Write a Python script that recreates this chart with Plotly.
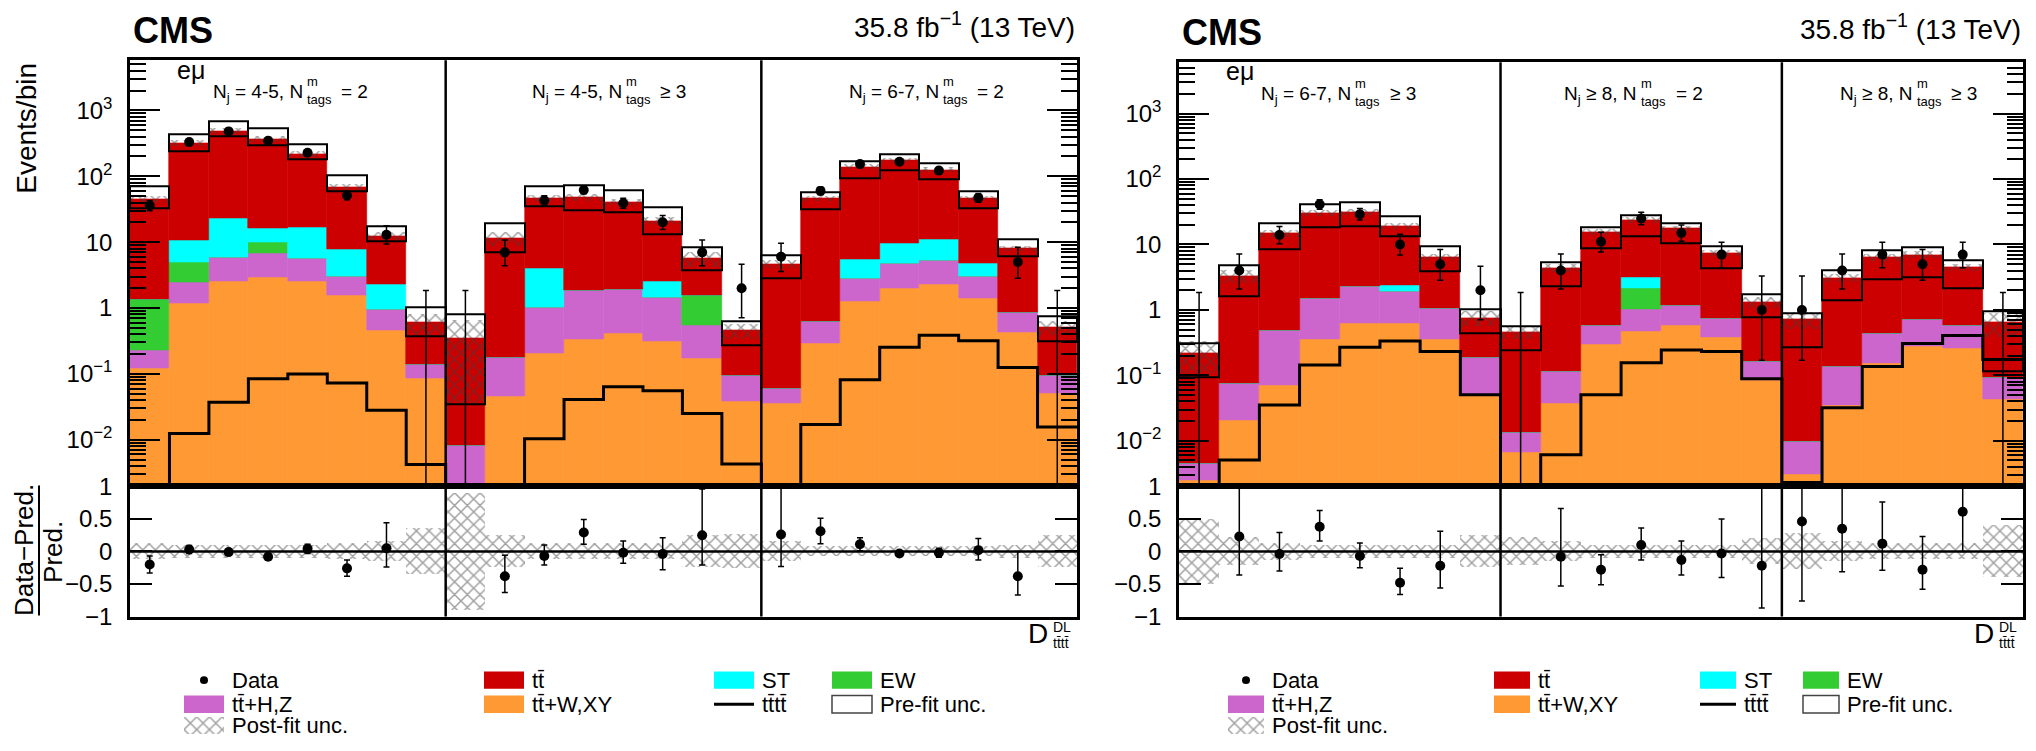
import numpy as np
import plotly.graph_objects as go

W, H = 2036, 751
FLOOR = 1e-5
FONT = "Liberation Sans, Arial, Helvetica, sans-serif"

C_TT = "#cc0000"
C_ST = "#00ffff"
C_EW = "#33cc33"
C_HZ = "#cc66cc"
C_WXY = "#ff9933"
HATCH = dict(shape="x", fgcolor="#404040", size=9, solidity=0.3, fillmode="overlay")

# ---------------- Left panel: e mu, 3 categories x 8 bins ----------------
L_cat_main = ["N<sub>j</sub> = 4-5, N", "N<sub>j</sub> = 4-5, N", "N<sub>j</sub> = 6-7, N"]
L_cat_rel = ["= 2", "\u2265 3", "= 2"]
L_dividers = [8, 16]

L_ttWXY = [0.121, 1.18, 2.54, 2.97, 2.54, 1.57, 0.456, 0.0865,
           0.001, 0.0456, 0.207, 0.333, 0.417, 0.308, 0.175, 0.0385,
           0.0364, 0.29, 1.28, 2.03, 2.32, 1.40, 0.43, 0.051]
L_ttHZ = [0.111, 1.27, 3.29, 3.78, 3.16, 1.50, 0.49, 0.0535,
          0.0073, 0.134, 0.823, 1.517, 1.50, 1.14, 0.365, 0.056,
          0.0236, 0.348, 1.56, 2.79, 3.08, 1.67, 0.435, 0.0436]
L_EW = [1.13, 2.55, 0, 3.05, 0, 0, 0, 0,
        0, 0, 0, 0, 0, 0, 1.03, 0,
        0, 0, 0, 0, 0, 0, 0, 0]
L_ST = [0, 5.6, 16.9, 6.4, 11.2, 4.73, 1.32, 0,
        0, 0, 2.95, 0, 0, 1.06, 0, 0,
        0, 0, 2.73, 4.95, 5.8, 1.64, 0, 0]
L_tt = [43.6, 309, 462, 354, 201, 60.2, 10.1, 0.46,
        0.336, 11.3, 42.7, 46.2, 38.7, 18.5, 4.03, 0.361,
        4.64, 45.4, 133, 165, 114, 41.9, 7.13, 0.415]
L_tttt = [0.001, 0.0125, 0.037, 0.0845, 0.10, 0.073, 0.028, 0.0042,
          0.001, 0.001, 0.0104, 0.041, 0.0638, 0.0557, 0.025, 0.0043,
          0.001, 0.017, 0.0817, 0.254, 0.385, 0.318, 0.125, 0.0157]
L_pre_lo = [32.5, 238, 398, 297, 181, 60, 10.2, 0.372,
            0.035, 7.0, 35.6, 30, 28.4, 13.2, 3.72, 0.275,
            2.84, 31.8, 94.6, 122, 89, 32.5, 6.03, 0.318]
L_pre_hi = [71.5, 440, 690, 540, 308, 102, 17.5, 1.03,
            0.817, 19.2, 69.8, 73.8, 61.7, 33.3, 8.26, 0.638,
            6.24, 57, 171, 215, 157, 59, 10.9, 0.755]
L_unc = [0.12, 0.10, 0.10, 0.10, 0.10, 0.12, 0.15, 0.35,
         0.90, 0.25, 0.12, 0.12, 0.12, 0.12, 0.25, 0.26,
         0.15, 0.08, 0.08, 0.08, 0.08, 0.08, 0.10, 0.24]
L_data = [36, 330, 480, 345, 227, 51, 13, 0,
          0, 7, 43, 62, 39, 20, 7, 2,
          6, 60, 153, 166, 122, 47, 5, 0]
L_data_dn = [6, 18, 22, 19, 15, 7, 3.6, 0,
             0, 2.6, 6.5, 7.9, 6.2, 4.4, 2.6, 1.29,
             2.4, 7.7, 12.4, 12.9, 11, 6.8, 2.16, 0]
L_data_up = [7, 19, 23, 20, 16, 8, 4.7, 1.84,
             1.84, 3.8, 7.6, 8.9, 7.3, 5.5, 3.8, 2.64,
             3.6, 8.8, 13.4, 13.9, 12, 7.9, 3.38, 1.84]
L_ratio = [-0.20, 0.03, -0.01, -0.08, 0.04, -0.26, 0.05, None,
           None, -0.38, -0.07, 0.29, -0.02, -0.04, 0.25, None,
           0.26, 0.31, 0.11, -0.03, -0.02, 0.02, -0.38, None]
L_ratio_dn = [0.13, 0.06, 0.05, 0.05, 0.07, 0.12, 0.29, 0,
              0, 0.25, 0.14, 0.18, 0.16, 0.24, 0.46, 0,
              0.49, 0.19, 0.10, 0.04, 0.07, 0.15, 0.29, 0]
L_ratio_up = [0.13, 0.06, 0.05, 0.05, 0.07, 0.13, 0.39, 0,
              0, 0.32, 0.17, 0.20, 0.18, 0.25, 0.71, 0,
              0.80, 0.20, 0.10, 0.04, 0.07, 0.18, 0.38, 0]

# ---------------- Right panel: e mu, categories with 8, 7, 6 bins ----------------
R_cat_main = ["N<sub>j</sub> = 6-7, N", "N<sub>j</sub> \u2265 8, N", "N<sub>j</sub> \u2265 8, N"]
R_cat_rel = ["\u2265 3", "= 2", "\u2265 3"]
R_dividers = [8, 15]

R_ttWXY = [0.0025, 0.0204, 0.0708, 0.352, 0.628, 0.628, 0.352, 0.0504,
           0.00658, 0.038, 0.30, 0.467, 0.586, 0.386, 0.0857,
           0.0031, 0.0347, 0.156, 0.275, 0.26, 0.0435]
R_ttHZ = [0.002, 0.0544, 0.413, 1.148, 1.65, 1.32, 0.72, 0.141,
          0.0071, 0.077, 0.286, 0.573, 0.614, 0.374, 0.079,
          0.0067, 0.101, 0.291, 0.445, 0.326, 0.0503]
R_EW = [0, 0, 0, 0, 0, 0, 0, 0,
        0, 0, 0, 1.14, 0, 0, 0,
        0, 0, 0, 0, 0, 0]
R_ST = [0, 0, 0, 0, 0, 0.46, 0, 0,
        0, 0, 0, 1.02, 0, 0, 0,
        0, 0, 0, 0, 0, 0]
R_tt = [0.2145, 3.255, 14.32, 28.5, 29.3, 16.79, 5.43, 0.569,
        0.443, 4.255, 14.81, 20.3, 16.3, 6.64, 1.155,
        0.70, 2.96, 5.95, 6.24, 3.88, 0.547]
R_tttt = [0.001, 0.0051, 0.0351, 0.144, 0.268, 0.336, 0.232, 0.0504,
          0.001, 0.0061, 0.0504, 0.156, 0.245, 0.232, 0.0887,
          0.0023, 0.032, 0.136, 0.308, 0.408, 0.175]
R_pre_lo = [0.094, 1.64, 8.36, 18.7, 19.1, 13.6, 3.92, 0.441,
            0.245, 2.28, 8.65, 13.3, 10.3, 4.39, 0.787,
            0.265, 1.42, 2.95, 3.2, 2.18, 0.117]
R_pre_hi = [0.308, 4.75, 20.9, 41.2, 43.6, 27.4, 9.38, 1.04,
            0.555, 5.38, 18.7, 28.4, 21.4, 9.47, 1.74,
            0.90, 4.06, 8.19, 9.17, 5.82, 0.953]
R_unc = [0.50, 0.22, 0.13, 0.10, 0.10, 0.10, 0.10, 0.25,
         0.22, 0.15, 0.10, 0.10, 0.10, 0.10, 0.20,
         0.28, 0.15, 0.12, 0.12, 0.12, 0.40]
R_data = [0, 4, 14, 41, 29, 10, 5, 2,
          0, 4, 11, 25, 15, 7, 1,
          1, 4, 7, 5, 7, 0]
R_data_dn = [0, 1.91, 3.7, 6.4, 5.4, 3.1, 2.16, 1.29,
             0, 1.91, 3.3, 5.0, 3.8, 2.6, 0.83,
             0.83, 1.91, 2.6, 2.16, 2.6, 0]
R_data_up = [1.84, 3.16, 4.8, 7.4, 6.4, 4.3, 3.38, 2.64,
             1.84, 3.16, 4.4, 6.0, 4.9, 3.8, 2.3,
             2.3, 3.16, 3.8, 3.38, 3.8, 1.84]
R_ratio = [None, 0.23, -0.04, 0.38, -0.07, -0.48, -0.22, None,
           None, -0.08, -0.28, 0.10, -0.13, -0.03, -0.22,
           0.46, 0.35, 0.12, -0.28, 0.61, None]
R_ratio_dn = [0, 0.59, 0.26, 0.22, 0.18, 0.18, 0.34, 0,
              0, 0.45, 0.23, 0.23, 0.23, 0.37, 0.65,
              1.22, 0.66, 0.41, 0.30, 0.61, 0]
R_ratio_up = [0, 0.80, 0.33, 0.25, 0.20, 0.22, 0.53, 0,
              0, 0.74, 0.23, 0.26, 0.29, 0.53, 1.30,
              0.60, 1.00, 0.64, 0.51, 0.60, 0]

TTBAR = "tt\u0304"
LEGEND_ROW1 = ["Data", TTBAR, "ST", "EW"]
LEGEND_ROW2 = [TTBAR + "+H,Z", TTBAR + "+W,XY", TTBAR + TTBAR, "Pre-fit unc."]
LEGEND_ROW3 = ["Post-fit unc."]

# ---------------- geometry (pixels) ----------------
L_X0, L_X1 = 130, 1077
R_X0, R_X1 = 1179, 2023
L_TOP, R_TOP = 48, 50
SPLIT, BOT = 490, 625
DY = -10  # vertical correction for header texts


def px(x):
    return x / W


def py(y):
    return 1 - y / H


fig = go.Figure()


def add_panel(xa, ya, xr, yr, comps, tttt, pre_lo, pre_hi, unc, data, d_dn, d_up,
              rat, r_dn, r_up):
    n = len(data)
    xc = np.arange(n) + 0.5
    pre_lo = np.array(pre_lo, float)
    pre_hi = np.array(pre_hi, float)
    unc = np.array(unc, float)
    common = dict(xaxis=xa, yaxis=ya, width=1, showlegend=False, hoverinfo="skip")
    fig.add_trace(go.Bar(x=xc, y=pre_hi - pre_lo, base=pre_lo,
                         marker=dict(color="white", line=dict(width=0)), **common))
    base = np.full(n, FLOOR)
    for vals, col in comps:
        v = np.array(vals, float)
        fig.add_trace(go.Bar(x=xc, y=v, base=base.copy(),
                             marker=dict(color=col, line=dict(width=0.6, color=col)), **common))
        base = base + v
    total = base - FLOOR
    fig.add_trace(go.Bar(x=xc, y=2 * total * unc, base=total * (1 - unc),
                         marker=dict(color="rgba(0,0,0,0)", line=dict(width=0), pattern=HATCH),
                         **common))
    fig.add_trace(go.Bar(x=xc, y=pre_hi - pre_lo, base=pre_lo,
                         marker=dict(color="rgba(0,0,0,0)", line=dict(width=2, color="black")),
                         **common))
    edges = np.arange(n + 1)
    sig = list(tttt) + [tttt[-1]]
    fig.add_trace(go.Scatter(x=edges, y=sig, mode="lines", line=dict(color="black", width=3, shape="hv"),
                             xaxis=xa, yaxis=ya, showlegend=False, hoverinfo="skip"))
    d = np.array(data, float)
    yd = np.where(d > 0, d, FLOOR)
    fig.add_trace(go.Scatter(x=xc, y=yd, mode="markers",
                             marker=dict(color="black", size=10),
                             error_y=dict(type="data", symmetric=False, array=d_up, arrayminus=d_dn,
                                          color="black", thickness=1.5, width=3),
                             xaxis=xa, yaxis=ya, showlegend=False, hoverinfo="skip"))
    fig.add_trace(go.Bar(x=xc, y=2 * unc, base=-unc, width=1,
                         marker=dict(color="rgba(0,0,0,0)", line=dict(width=0), pattern=HATCH),
                         xaxis=xr, yaxis=yr, showlegend=False, hoverinfo="skip"))
    fig.add_trace(go.Scatter(x=xc, y=rat, mode="markers",
                             marker=dict(color="black", size=10),
                             error_y=dict(type="data", symmetric=False, array=r_up, arrayminus=r_dn,
                                          color="black", thickness=1.5, width=3),
                             xaxis=xr, yaxis=yr, showlegend=False, hoverinfo="skip"))


add_panel("x", "y", "x2", "y2",
          [(L_ttWXY, C_WXY), (L_ttHZ, C_HZ), (L_EW, C_EW), (L_ST, C_ST), (L_tt, C_TT)],
          L_tttt, L_pre_lo, L_pre_hi, L_unc, L_data, L_data_dn, L_data_up,
          L_ratio, L_ratio_dn, L_ratio_up)
add_panel("x3", "y3", "x4", "y4",
          [(R_ttWXY, C_WXY), (R_ttHZ, C_HZ), (R_EW, C_EW), (R_ST, C_ST), (R_tt, C_TT)],
          R_tttt, R_pre_lo, R_pre_hi, R_unc, R_data, R_data_dn, R_data_up,
          R_ratio, R_ratio_dn, R_ratio_up)

for xa, ya in (("x5", "y5"), ("x6", "y6")):
    fig.add_trace(go.Bar(x=[0.5], y=[1], width=1, xaxis=xa, yaxis=ya,
                         marker=dict(color="rgba(0,0,0,0)", line=dict(width=0), pattern=HATCH),
                         showlegend=False, hoverinfo="skip"))

# ---------------- axes ----------------
tickfont = dict(family=FONT, size=24, color="black")
minor_vals = [k * 10.0 ** e for e in range(-3, 4) for k in range(2, 10)]
log_ticks = dict(tickmode="array", tickvals=[1e-2, 1e-1, 1, 10, 100, 1000],
                 ticktext=["10<sup>\u22122</sup>", "10<sup>\u22121</sup>", "1", "10",
                           "10<sup>2</sup>", "10<sup>3</sup>"])


def xax(dom, n, anchor):
    return dict(domain=dom, range=[0, n], anchor=anchor, showticklabels=False, ticks="",
                showline=True, linecolor="black", linewidth=2.5, mirror=True,
                showgrid=False, zeroline=False, fixedrange=True)


def ymain(dom, rng, anchor):
    return dict(domain=dom, type="log", range=rng, anchor=anchor, **log_ticks,
                ticks="inside", ticklen=30, tickwidth=1.5, tickcolor="black",
                minor=dict(tickmode="array", tickvals=minor_vals, ticks="inside", ticklen=16,
                           tickwidth=1.5, tickcolor="black", showgrid=False),
                showline=True, linecolor="black", linewidth=2.5, mirror="ticks",
                showgrid=False, zeroline=False, tickfont=tickfont, ticklabelstandoff=10)


def yratio(dom, anchor):
    return dict(domain=dom, range=[-1, 1], anchor=anchor, tickmode="array",
                tickvals=[-1, -0.5, 0, 0.5, 1], ticktext=["\u22121", "\u22120.5", "0", "0.5", "1"],
                ticks="inside", ticklen=22, tickwidth=1.5, tickcolor="black",
                showline=True, linecolor="black", linewidth=2.5, mirror="ticks",
                showgrid=False, zeroline=False, tickfont=tickfont, ticklabelstandoff=10)


Ldom = [px(L_X0), px(L_X1)]
Rdom = [px(R_X0), px(R_X1)]
nL, nR = len(L_data), len(R_data)

layout_axes = dict(
    xaxis=xax(Ldom, nL, "y"),
    yaxis=ymain([py(SPLIT), py(L_TOP)], [-2.707, 3.761], "x"),
    xaxis2=xax(Ldom, nL, "y2"),
    yaxis2=yratio([py(BOT), py(SPLIT)], "x2"),
    xaxis3=xax(Rdom, nR, "y3"),
    yaxis3=ymain([py(SPLIT), py(R_TOP)], [-2.697, 3.786], "x3"),
    xaxis4=xax(Rdom, nR, "y4"),
    yaxis4=yratio([py(BOT), py(SPLIT)], "x4"),
)

# ---------------- shapes ----------------
shapes = []
for xa, ya, xr, yr, divs in (("x", "y", "x2", "y2", L_dividers), ("x3", "y3", "x4", "y4", R_dividers)):
    for d in divs:
        for a, b in ((xa, ya), (xr, yr)):
            shapes.append(dict(type="line", xref=a, yref=b + " domain", x0=d, x1=d, y0=0, y1=1,
                               line=dict(color="black", width=2.5), layer="above"))
    shapes.append(dict(type="line", xref=xr + " domain", yref=yr, x0=0, x1=1, y0=0, y1=0,
                       line=dict(color="black", width=2.5), layer="above"))

shapes.append(dict(type="line", xref="paper", yref="paper", x0=px(39), x1=px(39),
                   y0=py(489), y1=py(624), line=dict(color="black", width=2)))

annotations = []


def ann(text, x, y, size, xanchor="left", yanchor="middle", xref="paper", angle=0, bold=False):
    annotations.append(dict(text=("<b>%s</b>" % text) if bold else text, x=x, y=y, xref=xref,
                            yref="paper", xanchor=xanchor, yanchor=yanchor, showarrow=False,
                            textangle=angle, font=dict(family=FONT, size=size, color="black")))


def legend(cols, bw):
    rows = [691, 716, 738]
    cx = cols[0] + bw / 2
    shapes.append(dict(type="circle", xref="paper", yref="paper", x0=px(cx - 4), x1=px(cx + 4),
                       y0=py(rows[0] + 4), y1=py(rows[0] - 4), fillcolor="black", line=dict(width=0)))
    boxes = [(cols[1], rows[0], C_TT), (cols[2], rows[0], C_ST), (cols[3], rows[0], C_EW),
             (cols[0], rows[1], C_HZ), (cols[1], rows[1], C_WXY)]
    for x0, yc, col in boxes:
        shapes.append(dict(type="rect", xref="paper", yref="paper", x0=px(x0), x1=px(x0 + bw),
                           y0=py(yc + 9), y1=py(yc - 9), fillcolor=col, line=dict(width=0)))
    shapes.append(dict(type="line", xref="paper", yref="paper", x0=px(cols[2]), x1=px(cols[2] + bw),
                       y0=py(rows[1]), y1=py(rows[1]), line=dict(color="black", width=3)))
    shapes.append(dict(type="rect", xref="paper", yref="paper", x0=px(cols[3]), x1=px(cols[3] + bw),
                       y0=py(rows[1] + 9), y1=py(rows[1] - 9), fillcolor="white",
                       line=dict(color="#444", width=1.5)))
    for i, t in enumerate(LEGEND_ROW1):
        ann(t, px(cols[i] + bw + 6), py(rows[0]), 22)
    for i, t in enumerate(LEGEND_ROW2):
        ann(t, px(cols[i] + bw + 6), py(rows[1]), 22)
    ann(LEGEND_ROW3[0], px(cols[0] + bw + 6), py(rows[2]), 22)
    return [px(cols[0]), px(cols[0] + bw)], [py(rows[2] + 9), py(rows[2] - 9)]


hx5, hy5 = legend([184, 484, 714, 832], 40)
hx6, hy6 = legend([1228, 1494, 1700, 1803], 36)
hidden = dict(visible=False, range=[0, 1], fixedrange=True)
layout_axes["xaxis5"] = dict(domain=hx5, anchor="y5", **hidden)
layout_axes["yaxis5"] = dict(domain=hy5, anchor="x5", **hidden)
layout_axes["xaxis6"] = dict(domain=hx6, anchor="y6", **hidden)
layout_axes["yaxis6"] = dict(domain=hy6, anchor="x6", **hidden)

for x0, x1, top in ((L_X0, L_X1, L_TOP), (R_X0, R_X1, R_TOP)):
    ann("CMS", px(x0 + 1), py(top - 44 + DY), 36, yanchor="top", bold=True)
    ann("35.8 fb<sup>\u22121</sup> (13 TeV)", px(x1), py(top - 6 + DY), 28, xanchor="right", yanchor="bottom")
    ann("e\u03bc", px(x0 + 45), py(top + 3 + DY), 25, yanchor="top")
    ann("D", px(x1 - 27), py(624), 28, xanchor="right", yanchor="top")
    ann("DL", px(x1 - 26), py(625), 14, xanchor="left", yanchor="top")
    ann(TTBAR + TTBAR, px(x1 - 26), py(642), 14, xanchor="left", yanchor="top")

ann("Events/bin", px(27), py(49), 28, xanchor="center", yanchor="top", angle=-90)
ann("Data\u2212Pred.", px(24), py(556), 26, xanchor="center", angle=-90)
ann("Pred.", px(53), py(558), 26, xanchor="center", angle=-90)

L_cat_pos = [4.43, 12.52, 20.55]
R_cat_pos = [4.33, 11.45, 18.31]
for xa, mains, rels, poss, top in (("x", L_cat_main, L_cat_rel, L_cat_pos, L_TOP),
                                    ("x3", R_cat_main, R_cat_rel, R_cat_pos, R_TOP)):
    for m, r, p in zip(mains, rels, poss):
        annotations.append(dict(text=m, x=p, xref=xa, y=py(top + 29 + DY), yref="paper", xanchor="right",
                                yanchor="top", showarrow=False, font=dict(family=FONT, size=19, color="black")))
        annotations.append(dict(text="m", x=p, xref=xa, y=py(top + 22 + DY), yref="paper", xanchor="left",
                                yanchor="top", showarrow=False, font=dict(family=FONT, size=13, color="black")))
        annotations.append(dict(text="tags", x=p, xref=xa, y=py(top + 41 + DY), yref="paper", xanchor="left",
                                yanchor="top", showarrow=False, font=dict(family=FONT, size=13, color="black")))
        annotations.append(dict(text=r, x=p + 0.86, xref=xa, y=py(top + 29 + DY), yref="paper", xanchor="left",
                                yanchor="top", showarrow=False, font=dict(family=FONT, size=19, color="black")))

fig.update_layout(width=W, height=H, margin=dict(l=0, r=0, t=0, b=0), autosize=False,
                  paper_bgcolor="white", plot_bgcolor="white", barmode="overlay", bargap=0,
                  showlegend=False, shapes=shapes, annotations=annotations,
                  font=dict(family=FONT, color="black"), **layout_axes)

fig.write_html("out.html", config={"displayModeBar": False})
